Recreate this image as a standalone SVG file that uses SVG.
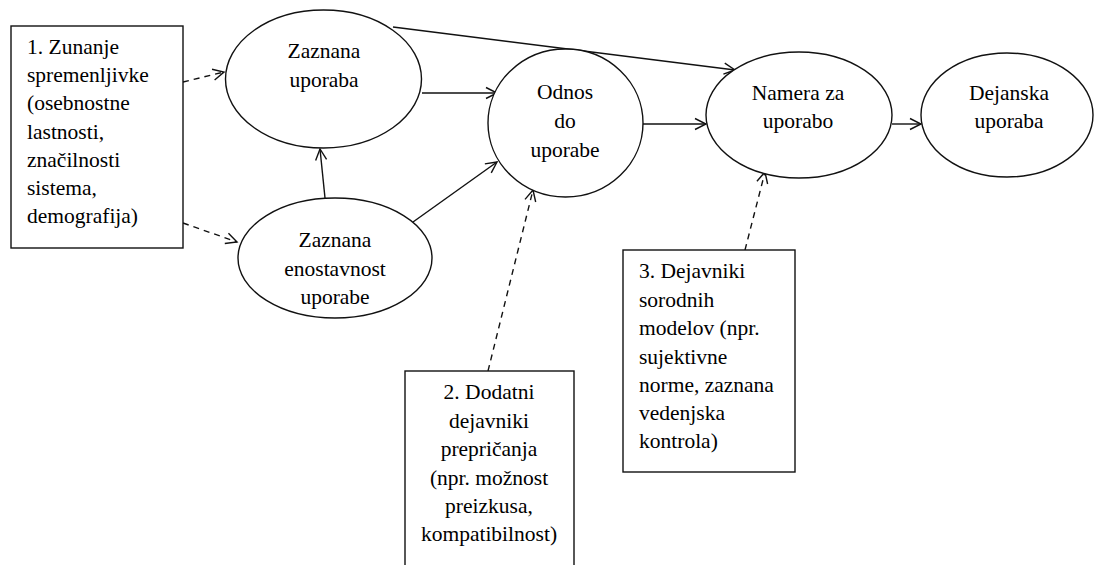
<svg xmlns="http://www.w3.org/2000/svg" width="1094" height="565" viewBox="0 0 1094 565" font-family="Liberation Serif">
<style>
.n{fill:#fff;stroke:#111;stroke-width:1.4}
.e{fill:none;stroke:#111;stroke-width:1.4}
.d{stroke-dasharray:6 5}
</style>
<defs>
<marker id="a" markerUnits="userSpaceOnUse" markerWidth="16" markerHeight="16" refX="13" refY="8" orient="auto">
<polyline points="2,2.5 13,8 2,13.5" fill="none" stroke="#111" stroke-width="1.4"/>
</marker>
</defs>
<rect width="1094" height="565" fill="#fff"/>
<g id="connectors">
<line class="e d" x1="183" y1="82" x2="224" y2="72" marker-end="url(#a)"/>
<line class="e d" x1="183" y1="223" x2="237" y2="242" marker-end="url(#a)"/>
<line class="e" x1="325" y1="198" x2="320" y2="149" marker-end="url(#a)"/>
<line class="e" x1="422" y1="93" x2="497" y2="93" marker-end="url(#a)"/>
<line class="e" x1="413" y1="222" x2="497" y2="162" marker-end="url(#a)"/>
<line class="e" x1="393" y1="27" x2="735" y2="70" marker-end="url(#a)"/>
<line class="e" x1="643" y1="124" x2="706" y2="124" marker-end="url(#a)"/>
<line class="e" x1="892" y1="124" x2="921" y2="124" marker-end="url(#a)"/>
<line class="e d" x1="488" y1="371" x2="533" y2="190" marker-end="url(#a)"/>
<line class="e d" x1="745" y1="250" x2="765" y2="172" marker-end="url(#a)"/>
</g>
<g id="box1">
<rect class="n" x="11" y="26" width="172" height="222"/>
<text font-family="Liberation Serif" font-size="21.5" style="font-family:'Liberation Serif',serif"><tspan x="27" y="54">1. Zunanje</tspan><tspan x="27" y="82">spremenljivke</tspan><tspan x="27" y="110">(osebnostne</tspan><tspan x="27" y="139">lastnosti,</tspan><tspan x="27" y="167">značilnosti</tspan><tspan x="27" y="195">sistema,</tspan><tspan x="27" y="223">demografija)</tspan></text>
</g>
<g id="zaznana-uporaba">
<ellipse class="n" cx="323.5" cy="79" rx="98" ry="69"/>
<text text-anchor="middle" font-family="Liberation Serif" font-size="21.5" style="font-family:'Liberation Serif',serif"><tspan x="324" y="58">Zaznana</tspan><tspan x="324" y="87">uporaba</tspan></text>
</g>
<g id="zaznana-enostavnost">
<ellipse class="n" cx="335" cy="258" rx="97" ry="60"/>
<text text-anchor="middle" font-family="Liberation Serif" font-size="21.5" style="font-family:'Liberation Serif',serif"><tspan x="335" y="247">Zaznana</tspan><tspan x="335" y="276">enostavnost</tspan><tspan x="335" y="304">uporabe</tspan></text>
</g>
<g id="odnos">
<ellipse class="n" cx="565.5" cy="123" rx="77.5" ry="74"/>
<text text-anchor="middle" font-family="Liberation Serif" font-size="21.5" style="font-family:'Liberation Serif',serif"><tspan x="565" y="99">Odnos</tspan><tspan x="565" y="128">do</tspan><tspan x="565" y="157">uporabe</tspan></text>
</g>
<g id="namera">
<ellipse class="n" cx="799" cy="115" rx="93" ry="63"/>
<text text-anchor="middle" font-family="Liberation Serif" font-size="21.5" style="font-family:'Liberation Serif',serif"><tspan x="798" y="100">Namera za</tspan><tspan x="798" y="128">uporabo</tspan></text>
</g>
<g id="dejanska">
<ellipse class="n" cx="1007" cy="115" rx="86" ry="62"/>
<text text-anchor="middle" font-family="Liberation Serif" font-size="21.5" style="font-family:'Liberation Serif',serif"><tspan x="1009" y="100">Dejanska</tspan><tspan x="1009" y="128">uporaba</tspan></text>
</g>
<g id="box2">
<rect class="n" x="405" y="371" width="169" height="210"/>
<text text-anchor="middle" font-family="Liberation Serif" font-size="21.5" style="font-family:'Liberation Serif',serif"><tspan x="489" y="399">2. Dodatni</tspan><tspan x="489" y="428">dejavniki</tspan><tspan x="489" y="456">prepričanja</tspan><tspan x="489" y="485">(npr. možnost</tspan><tspan x="489" y="513">preizkusa,</tspan><tspan x="489" y="541">kompatibilnost)</tspan></text>
</g>
<g id="box3">
<rect class="n" x="623" y="250" width="172" height="222"/>
<text font-family="Liberation Serif" font-size="21.5" style="font-family:'Liberation Serif',serif"><tspan x="639" y="278">3. Dejavniki</tspan><tspan x="639" y="307">sorodnih</tspan><tspan x="639" y="335">modelov (npr.</tspan><tspan x="639" y="364">sujektivne</tspan><tspan x="639" y="392">norme, zaznana</tspan><tspan x="639" y="420">vedenjska</tspan><tspan x="639" y="448">kontrola)</tspan></text>
</g>
</svg>
